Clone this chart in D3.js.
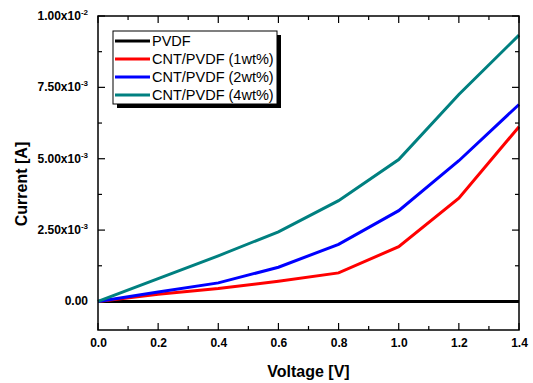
<!DOCTYPE html>
<html lang="en">
<head>
<meta charset="UTF-8">
<title>I-V curves</title>
<script src="https://d3js.org/d3.v7.min.js"></script>
<style>
    body { margin: 0; padding: 0; background: #fff; }
    svg { display: block; font-family: Arial, "Liberation Sans", sans-serif; }
    .tick text { font-weight: bold; font-size: 12px; fill: #000; }
</style>
</head>
<body>
<script>
    // data
    var voltage = [0.0, 0.2, 0.4, 0.6, 0.8, 1.0, 1.2, 1.4];
    var pvdf   = [0, 0, 0, 0, 0, 0, 0, 0];
    var cnt1   = [0, 0.25e-3, 0.45e-3, 0.71e-3, 1.0e-3, 1.92e-3, 3.62e-3, 6.12e-3];
    var cnt2   = [0, 0.33e-3, 0.65e-3, 1.2e-3, 2.0e-3, 3.18e-3, 4.93e-3, 6.9e-3];
    var cnt4   = [0, 0.8e-3, 1.6e-3, 2.44e-3, 3.53e-3, 4.97e-3, 7.25e-3, 9.33e-3];
    var seriesNames = ["PVDF", "CNT/PVDF (1wt%)", "CNT/PVDF (2wt%)", "CNT/PVDF (4wt%)"];
    var seriesColors = ["#000000", "#ff0000", "#0000ff", "#008080"];
    var yTickValues = [0, 2.5e-3, 5e-3, 7.5e-3, 1e-2];
    var yTickLabels = [["0.00", ""], ["2.50x10", "-3"], ["5.00x10", "-3"], ["7.50x10", "-3"], ["1.00x10", "-2"]];

    var allSeries = [pvdf, cnt1, cnt2, cnt4];

    var width = 533, height = 383;
    // plot frame (window.top is read-only, so own names)
    var pLeft = 98, pRight = 519, pTop = 16, pBottom = 330;

    var svg = d3.select("body").append("svg")
        .attr("width", width)
        .attr("height", height);

    var x = d3.scaleLinear().domain([0, 1.4]).range([pLeft, pRight]);
    var y = d3.scaleLinear().domain([-1e-3, 1e-2]).range([pBottom, pTop]);

    var xMinor = d3.range(0, 1.41, 0.1);
    var yMinor = d3.range(-1.25e-3, 1.01e-2, 1.25e-3).filter(function(v) { return v >= -1e-3; });

    // bottom axis labels
    var xb = svg.append("g").attr("transform", "translate(0," + pBottom + ")")
        .call(d3.axisBottom(x).tickValues(d3.range(0, 1.41, 0.2)).tickSize(0).tickPadding(8)
            .tickFormat(d3.format(".1f")));
    xb.select(".domain").remove();

    // ticks inside the frame
    var tickG = svg.append("g").attr("stroke", "#000").attr("stroke-width", 1.2);
    xMinor.forEach(function(v, i) {
        var len = (i % 2 === 0) ? 7 : 4;
        tickG.append("line").attr("x1", x(v)).attr("x2", x(v)).attr("y1", pBottom).attr("y2", pBottom - len);
        tickG.append("line").attr("x1", x(v)).attr("x2", x(v)).attr("y1", pTop).attr("y2", pTop + len);
    });
    yMinor.forEach(function(v) {
        var major = Math.abs(Math.round(v / 2.5e-3) * 2.5e-3 - v) < 1e-9;
        var len = major ? 7 : 4;
        tickG.append("line").attr("x1", pLeft).attr("x2", pLeft + len).attr("y1", y(v)).attr("y2", y(v));
        tickG.append("line").attr("x1", pRight).attr("x2", pRight - len).attr("y1", y(v)).attr("y2", y(v));
    });

    // y tick labels with superscript exponent
    var yl = svg.append("g");
    yTickValues.forEach(function(v, i) {
        var t = yl.append("text")
            .attr("x", pLeft - 10)
            .attr("y", y(v) + 4)
            .attr("text-anchor", "end")
            .attr("font-weight", "bold")
            .attr("font-size", 12);
        t.append("tspan").text(yTickLabels[i][0]);
        if (yTickLabels[i][1]) {
            t.append("tspan").attr("dy", -5).attr("font-size", 8).text(yTickLabels[i][1]);
        }
    });

    // lines
    var line = d3.line()
        .x(function(d, i) { return x(voltage[i]); })
        .y(function(d) { return y(d); });

    svg.append("g").selectAll("path")
        .data(allSeries)
        .join("path")
        .attr("d", line)
        .attr("fill", "none")
        .attr("stroke", function(d, i) { return seriesColors[i]; })
        .attr("stroke-width", 3);

    // frame
    svg.append("rect")
        .attr("x", pLeft).attr("y", pTop)
        .attr("width", pRight - pLeft).attr("height", pBottom - pTop)
        .attr("fill", "none").attr("stroke", "#000").attr("stroke-width", 1.5);

    // axis titles
    svg.append("text")
        .attr("x", (pLeft + pRight) / 2).attr("y", 377)
        .attr("text-anchor", "middle")
        .attr("font-weight", "bold").attr("font-size", 16)
        .text("Voltage [V]");
    svg.append("text")
        .attr("transform", "translate(27,184) rotate(-90)")
        .attr("text-anchor", "middle")
        .attr("font-weight", "bold").attr("font-size", 16)
        .text("Current [A]");

    // legend
    var lg = svg.append("g");
    var lx = 113, ly = 31, lw = 164, lh = 73;
    lg.append("rect").attr("x", lx + 4).attr("y", ly + 4).attr("width", lw).attr("height", lh).attr("fill", "#000");
    lg.append("rect").attr("x", lx).attr("y", ly).attr("width", lw).attr("height", lh)
        .attr("fill", "#fff").attr("stroke", "#000").attr("stroke-width", 1);
    seriesNames.forEach(function(name, i) {
        var yy = ly + 10 + i * 18;
        lg.append("line").attr("x1", lx + 2).attr("x2", lx + 37).attr("y1", yy).attr("y2", yy)
            .attr("stroke", seriesColors[i]).attr("stroke-width", 3);
        lg.append("text").attr("x", lx + 39).attr("y", yy + 5)
            .attr("font-size", 14.5).text(name);
    });
</script>
</body>
</html>
